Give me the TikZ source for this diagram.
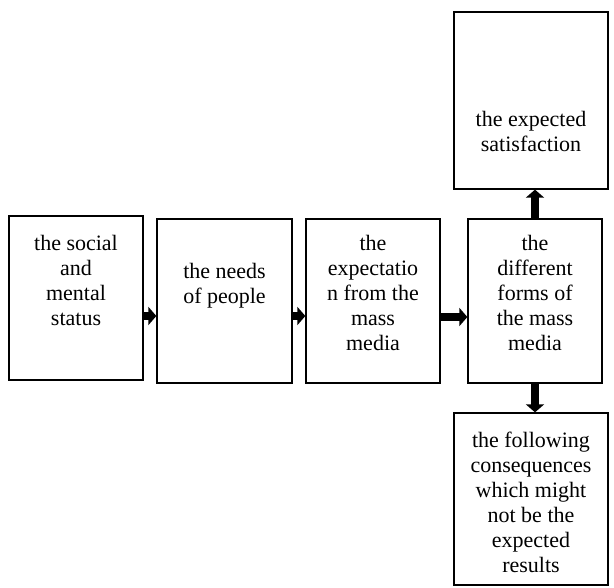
\documentclass[tikz,border=0pt]{standalone}
\usepackage{fontspec}
\setmainfont{Liberation Serif}
\usetikzlibrary{arrows.meta}
\begin{document}
\begin{tikzpicture}[x=1pt,y=-1pt,
  boxnode/.style={draw=black,line width=1.3pt,rectangle,inner sep=0pt},
  txt/.style={anchor=north,inner sep=0pt,align=center,font=\fontsize{22}{25}\selectfont},
  fatarrow/.style={line width=8pt,-{Triangle[length=8pt,width=18pt]}}]
\useasboundingbox (0,0) rectangle (614,588);
% boxes
\node[boxnode,minimum width=134pt,minimum height=164pt] (b1) at (76,298) {};
\node[boxnode,minimum width=135pt,minimum height=164pt] (b2) at (224.5,301) {};
\node[boxnode,minimum width=134pt,minimum height=164pt] (b3) at (373,301) {};
\node[boxnode,minimum width=134pt,minimum height=164pt] (b4) at (535,301) {};
\node[boxnode,minimum width=154pt,minimum height=177pt] (top) at (531,100.5) {};
\node[boxnode,minimum width=154pt,minimum height=172pt] (bot) at (531,499) {};
% texts
\node[txt] (t1) at (76,235) {the social\\and\\mental\\status};
\node[txt] (t2) at (224.5,263) {the needs\\of people};
\node[txt] (t3) at (373,235) {the\\expectatio\\n from the\\mass\\media};
\node[txt] (t4) at (535,235) {the\\different\\forms of\\the mass\\media};
\node[txt] (tt) at (531,111) {the expected\\satisfaction};
\node[txt] (tb) at (531,432) {the following\\consequences\\which might\\not be the\\expected\\results};
% arrows
\draw[fatarrow] ([yshift=-18pt]b1.east) -- ([yshift=-18pt]b1.east -| b2.west);
\draw[fatarrow] ([yshift=-15pt]b2.east) -- ([yshift=-15pt]b2.east -| b3.west);
\draw[fatarrow] ([yshift=-16pt]b3.east) -- ([yshift=-16pt]b3.east -| b4.west);
\draw[fatarrow] (b4.north) -- (b4.north |- top.south);
\draw[fatarrow] (b4.south) -- (b4.south |- bot.north);
\end{tikzpicture}
\end{document}
